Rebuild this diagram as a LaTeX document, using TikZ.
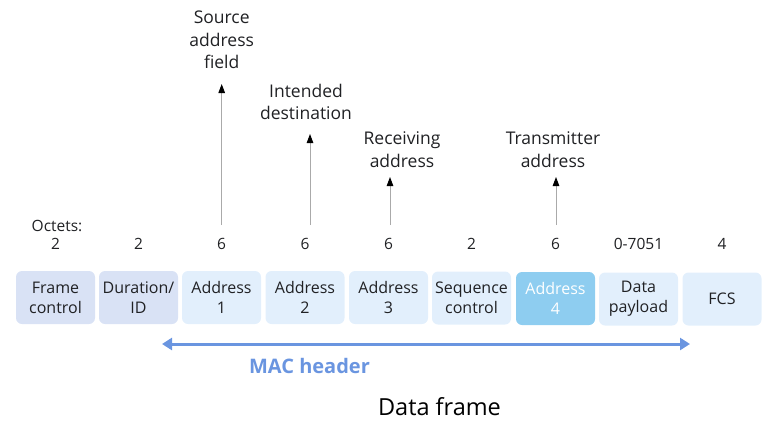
\documentclass[tikz,border=0pt]{standalone}
\usepackage{fontspec}
\setmainfont{Open Sans}
\usetikzlibrary{arrows.meta}
\definecolor{boxA}{HTML}{D9E2F5}
\definecolor{boxB}{HTML}{E2EFFC}
\definecolor{boxC}{HTML}{8ECDF0}
\definecolor{macblue}{HTML}{6A95E0}
\definecolor{txt}{HTML}{202124}
\definecolor{pointer}{HTML}{AAAAAA}
\begin{document}
\begin{tikzpicture}[x=1pt,y=-1pt,
  field/.style={rounded corners=6pt, minimum width=79pt, minimum height=53pt, inner sep=0pt,
    align=center, text=txt, font=\fontsize{16}{20}\selectfont},
  fieldA/.style={field, fill=boxA},
  fieldB/.style={field, fill=boxB},
  fieldC/.style={field, fill=boxC, text=white},
  octet/.style={text=txt, font=\fontsize{15.5}{20}\selectfont, inner sep=0pt},
  lbl/.style={text=txt, align=center, font=\fontsize{17.5}{22.5}\selectfont, inner sep=0pt},
  ptr/.style={draw=pointer, line width=0.9pt, -{Triangle[length=9pt,width=6.5pt,color=black]}},
]
\useasboundingbox (0,0) rectangle (784,423);
% fields
\node[fieldA] (f1) at (55.5,297.5) {Frame\\control};
\node[fieldA] (f2) at (138.5,297.5) {Duration/\\ID};
\node[fieldB] (f3) at (221.5,297.5) {Address\\1};
\node[fieldB] (f4) at (305,297.5) {Address\\2};
\node[fieldB] (f5) at (388.5,297.5) {Address\\3};
\node[fieldB] (f6) at (471.5,298) {Sequence\\control};
\node[fieldC] (f7) at (555.5,298.5) {Address\\4};
\node[fieldB] (f8) at (638.5,299) {Data\\payload};
\node[fieldB] (f9) at (722,299) {FCS};
% octets
\node[octet] (oct) at (57,225.5) {Octets:};
\node[octet] (o1) at (55.5,244) {2};
\node[octet] (o2) at (138.5,244) {2};
\node[octet] (o3) at (221.5,244) {6};
\node[octet] (o4) at (305,244) {6};
\node[octet] (o5) at (388.5,244) {6};
\node[octet] (o6) at (471.5,244) {2};
\node[octet] (o7) at (555.5,244) {6};
\node[octet] (o8) at (638.5,244) {0-7051};
\node[octet] (o9) at (722,244) {4};
% pointer labels
\node[lbl] (src) at (221.7,40) {Source\\address\\field};
\node[lbl] (dst) at (306,102) {Intended\\destination};
\node[lbl] (rcv) at (402,149.5) {Receiving\\address};
\node[lbl] (tx) at (553,149.5) {Transmitter\\address};
% pointer bases
\coordinate (b3) at (221.7,225);
\coordinate (b4) at (310,225);
\coordinate (b5) at (390,225);
\coordinate (b7) at (556,225);
\coordinate (t3) at (221.7,84);
\coordinate (t4) at (310,134);
\coordinate (t5) at (390,177);
\coordinate (t7) at (556,177);
\draw[ptr] (b3) -- (t3);
\draw[ptr] (b4) -- (t4);
\draw[ptr] (b5) -- (t5);
\draw[ptr] (b7) -- (t7);
% MAC header
\coordinate (ml) at (162,344);
\coordinate (mr) at (690,344);
\draw[macblue, line width=3pt, {Triangle[length=10pt,width=12pt]}-{Triangle[length=10pt,width=12pt]}] (ml) -- (mr);
\node[text=macblue, font=\fontsize{20}{24}\selectfont\bfseries, inner sep=0pt] (mac) at (309.5,365.5) {MAC header};
\node[text=black, font=\fontsize{23.5}{28}\selectfont, inner sep=0pt] (df) at (439.5,406.5) {Data frame};
\end{tikzpicture}
\end{document}
